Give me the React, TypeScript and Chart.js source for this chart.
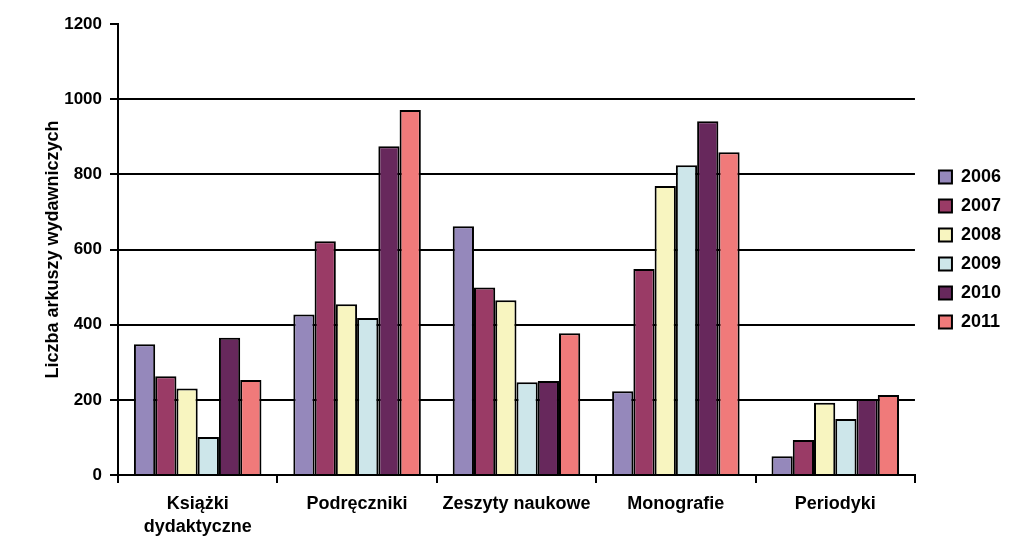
import React, { useEffect, useRef } from "react";
import { Chart, registerables } from "chart.js";

Chart.register(...registerables);

const categories: (string | string[])[] = [
  ["Książki", "dydaktyczne"],
  "Podręczniki",
  "Zeszyty naukowe",
  "Monografie",
  "Periodyki",
];
const years = ["2006", "2007", "2008", "2009", "2010", "2011"];
const v2006 = [348, 427, 662, 223, 50];
const v2007 = [263, 622, 499, 548, 93];
const v2008 = [230, 454, 465, 769, 192];
const v2009 = [101, 418, 247, 824, 149];
const v2010 = [365, 875, 250, 941, 202];
const v2011 = [253, 971, 377, 859, 213];
const seriesValues = [v2006, v2007, v2008, v2009, v2010, v2011];
const seriesColors = ["#9588bb", "#9a3b66", "#f8f5c0", "#cde6ea", "#67285c", "#f07a7a"];
const yMin = 0;
const yMax = 1200;
const yStep = 200;
const yTitle = "Liczba arkuszy wydawniczych";

const FONT = "'Liberation Sans', Arial, Helvetica, sans-serif";

export default function App() {
  const ref = useRef<HTMLCanvasElement | null>(null);

  useEffect(() => {
    if (!ref.current) return;
    const chart = new Chart(ref.current, {
      type: "bar",
      data: {
        labels: categories,
        datasets: years.map((y, i) => ({
          label: y,
          data: seriesValues[i],
          backgroundColor: seriesColors[i],
          borderColor: "#000000",
          borderWidth: 2,
          categoryPercentage: 0.8,
          barPercentage: 1.0,
        })),
      },
      options: {
        responsive: false,
        animation: false,
        layout: { padding: { top: 24, right: 12, bottom: 0, left: 0 } },
        plugins: {
          tooltip: { enabled: false },
          legend: {
            position: "right",
            fullSize: false,
            labels: {
              color: "#000",
              font: { family: FONT, size: 18, weight: "bold" },
              boxWidth: 13,
              boxHeight: 13,
              padding: 11,
            },
          },
        },
        scales: {
          x: {
            grid: {
              display: true,
              drawOnChartArea: false,
              drawTicks: true,
              tickLength: 8,
              color: "#000",
              lineWidth: 2,
              offset: true,
            },
            border: { display: true, color: "#000", width: 2 },
            ticks: {
              color: "#000",
              padding: 9,
              maxRotation: 0,
              autoSkip: false,
              font: { family: FONT, size: 18, weight: "bold", lineHeight: 1.3 },
            },
            afterFit: (s: any) => {
              s.height = 65;
            },
          },
          y: {
            min: yMin,
            max: yMax,
            ticks: {
              stepSize: yStep,
              color: "#000",
              padding: 8,
              font: { family: FONT, size: 17, weight: "bold" },
              callback: (v: any) => String(v),
            },
            grid: {
              color: (ctx: any) => (ctx.tick && ctx.tick.value === yMax ? "rgba(0,0,0,0)" : "#000"),
              tickColor: "#000",
              lineWidth: 2,
              tickLength: 8,
            },
            border: { display: true, color: "#000", width: 2 },
            title: {
              display: true,
              text: yTitle,
              color: "#000",
              font: { family: FONT, size: 18, weight: "bold" },
              padding: { top: 42, bottom: 0 },
            },
            afterFit: (s: any) => {
              s.width = 118;
            },
          },
          yGap: {
            type: "linear",
            position: "right",
            display: true,
            grid: { display: false },
            ticks: { display: false },
            border: { display: false },
            afterFit: (s: any) => {
              s.width = 13;
            },
          },
        },
      } as any,
    });
    return () => chart.destroy();
  }, []);

  return (
    <div style={{ position: "absolute", left: 0, top: 0, width: 1023, height: 540, background: "#fff" }}>
      <canvas ref={ref} width={1023} height={540} style={{ width: 1023, height: 540, display: "block" }} />
    </div>
  );
}
